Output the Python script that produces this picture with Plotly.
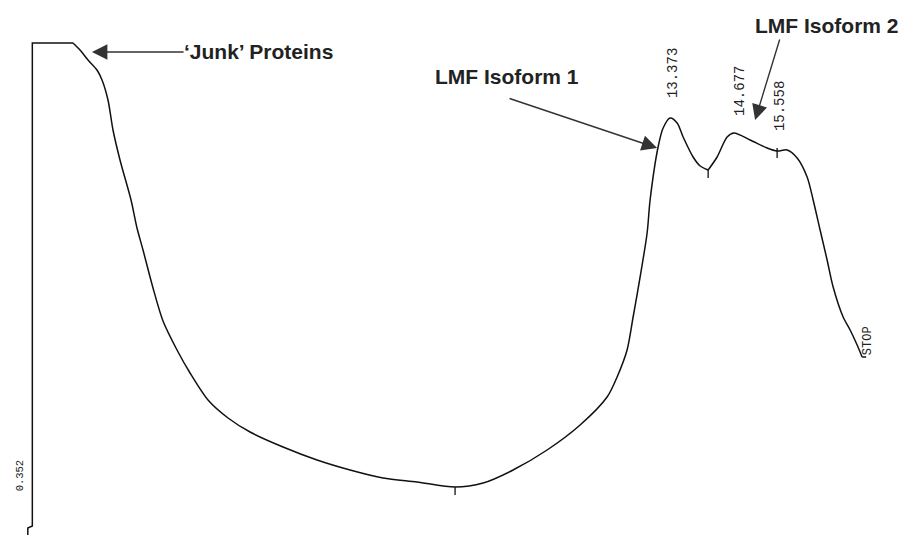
import plotly.graph_objects as go

# Chromatogram trace: retention time (min) and detector signal (arbitrary units)
inject_time = [0.26, 0.26, 0.352, 0.352, 1.182]
inject_signal = [0, 7, 9, 492, 492]

time_a = [1.182, 1.325, 1.489, 1.672, 1.775, 1.897, 1.999,
          2.142, 2.367, 2.489, 2.612, 2.816, 3.020, 3.306, 3.572, 3.939, 4.348,
          4.797, 5.471, 6.165, 6.839, 7.513, 8.207, 8.983, 9.555, 10.167, 10.862,
          11.536, 12.087, 12.291, 12.495, 12.618, 12.761, 12.904, 12.965, 13.128,
          13.231, 13.373, 13.517, 13.639, 13.843, 13.987, 14.150]
signal_a = [492, 485, 475, 465, 455, 435, 405,
            375, 335, 307, 285, 247, 214, 185, 162, 135, 117,
            103, 88, 75, 65, 57, 53, 48, 52, 65, 85,
            110, 138, 158, 185, 218, 258, 302, 335, 388,
            407, 417, 412, 398, 378, 369, 365]

time_b = [14.150, 14.333, 14.537, 14.677, 15.007, 15.354, 15.558, 15.763, 15.967,
          16.171, 16.294, 16.436, 16.579, 16.702, 16.906, 17.049, 17.192, 17.294]
signal_b = [365, 378, 398, 402, 395, 387, 384, 385, 377,
            358, 335, 305, 275, 248, 218, 205, 190, 178]
stop_time = [17.294, 17.376]
stop_signal = [178, 178]

# integration marks (retention time, top, bottom)
mark_times = [8.983, 14.150, 15.558]
mark_top = [48, 365, 387]
mark_bottom = [40, 357, 377]

# retention-time labels
rt_labels = ["0.352", "13.373", "14.677", "15.558"]
rt_pos = [0.352, 13.373, 14.677, 15.558]
rt_y = [60, 462, 444, 429]
rt_shift = [-12, 3, 6, 3]
rt_size = [10.5, 14, 14, 14]

line = dict(color="#111111", width=1.5)
fig = go.Figure()
fig.add_trace(go.Scatter(x=inject_time, y=inject_signal, mode="lines", line=line, hoverinfo="skip"))
fig.add_trace(go.Scatter(x=time_a, y=signal_a, mode="lines",
                         line=dict(line, shape="spline", smoothing=0.8), hoverinfo="skip"))
fig.add_trace(go.Scatter(x=time_b, y=signal_b, mode="lines",
                         line=dict(line, shape="spline", smoothing=0.8), hoverinfo="skip"))
fig.add_trace(go.Scatter(x=stop_time, y=stop_signal, mode="lines", line=line, hoverinfo="skip"))

mx, my = [], []
for t, a, b in zip(mark_times, mark_top, mark_bottom):
    mx += [t, t, None]
    my += [a, b, None]
fig.add_trace(go.Scatter(x=mx, y=my, mode="lines",
                         line=dict(color="#111111", width=1.3), hoverinfo="skip"))

for txt, t, yv, sh, sz in zip(rt_labels, rt_pos, rt_y, rt_shift, rt_size):
    fig.add_annotation(x=t, y=yv, text=txt, showarrow=False, textangle=-90,
                       xshift=sh, font=dict(family="Liberation Mono", size=sz, color="#222"))

fig.add_annotation(x=17.294, y=194, text="STOP", showarrow=False, textangle=-90,
                   xshift=6, font=dict(family="Liberation Mono", size=12, color="#222"))

bold = dict(family="Liberation Sans", size=21, color="#222")
fig.add_annotation(x=16.58, y=510, text="<b>LMF Isoform 2</b>", showarrow=False, font=bold)
fig.add_annotation(x=10.046, y=459, text="<b>LMF Isoform 1</b>", showarrow=False, font=bold)
fig.add_annotation(x=3.408, y=484, text="<b>‘Junk’ Proteins</b>", showarrow=False,
                   xanchor="left", font=bold)

arrow_kw = dict(showarrow=True, text="", axref="x", ayref="y", arrowhead=2,
                arrowsize=2.2, arrowwidth=1.4, arrowcolor="#333333", standoff=0)
fig.add_annotation(x=13.108, y=387, ax=10.065, ay=437, **arrow_kw)
fig.add_annotation(x=15.109, y=415, ax=15.62, ay=497, **arrow_kw)
fig.add_annotation(x=1.570, y=483, ax=3.47, ay=483, **arrow_kw)

fig.update_layout(width=907, height=535, margin=dict(l=0, r=0, t=0, b=0),
                  paper_bgcolor="white", plot_bgcolor="white", showlegend=False,
                  xaxis=dict(range=[-0.308, 18.21], visible=False),
                  yaxis=dict(range=[0, 535], visible=False))
fig.write_html("out.html")
